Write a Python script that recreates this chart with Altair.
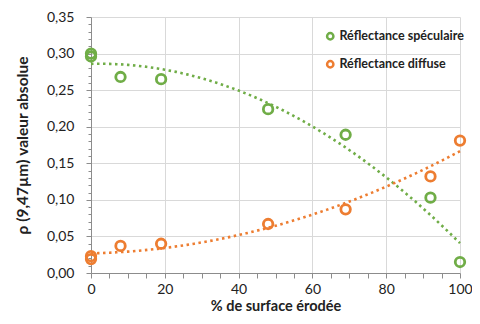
import altair as alt
import pandas as pd

# ---- data ----
x_pct = [0, 0, 8, 19, 48, 69, 92, 100]
specular = [0.300, 0.296, 0.268, 0.265, 0.224, 0.189, 0.103, 0.015]
diffuse = [0.023, 0.019, 0.037, 0.040, 0.067, 0.087, 0.132, 0.181]
series_names = ["Réflectance spéculaire", "Réflectance diffuse"]
series_colors = ["#70ad47", "#ed7d31"]
x_ticks = list(range(0, 101, 5))          # % erosion ticks (major every 20)
y_ticks_pct = list(range(0, 36))          # reflectance ticks in hundredths (major every 5)

rows = []
for xv, yv in zip(x_pct, specular):
    rows.append({"x": xv, "y": yv, "series": series_names[0]})
for xv, yv in zip(x_pct, diffuse):
    rows.append({"x": xv, "y": yv, "series": series_names[1]})
df = pd.DataFrame(rows)

FONT = "Lato"
AXIS_COL = "#8c8c8c"
GRID_COL = "#d9d9d9"
TXT = "#222222"

x_enc = alt.X(
    "x:Q",
    scale=alt.Scale(domain=[0, 100], nice=False, zero=False),
    axis=alt.Axis(
        values=x_ticks,
        title="% de surface érodée",
        titleFontSize=14.5,
        labelExpr="datum.value % 20 == 0 ? format(datum.value, 'd') : ''",
        labelFlush=False,
        labelOverlap=False,
        labelPadding=4,
        gridOpacity={"condition": {"test": "datum.value % 20 == 0 && datum.value > 0", "value": 1}, "value": 0},
        tickSize=5,
        titlePadding=3,
    ),
)
y_enc = alt.Y(
    "yc:Q",
    scale=alt.Scale(domain=[0, 35], nice=False),
    axis=alt.Axis(
        values=y_ticks_pct,
        title="ρ (9,47µm) valeur absolue",
        labelExpr="datum.value % 5 == 0 ? replace(format(datum.value / 100, '.2f'), '.', ',') : ''",
        labelOverlap=False,
        labelPadding=12,
        gridOpacity={"condition": {"test": "datum.value % 5 == 0 && datum.value > 0", "value": 1}, "value": 0},
        tickSize={"condition": {"test": "datum.value % 5 == 0", "value": 5}, "value": 3},
        titlePadding=16,
    ),
)
legend_spec = alt.Legend(
    title=None,
    orient="none",
    legendX=233,
    legendY=13,
    symbolType="circle",
    symbolSize=40,
    symbolStrokeWidth=2.5,
    symbolFillColor="white",
    labelFont=FONT,
    labelFontSize=12.5,
    labelFontWeight="bold",
    labelColor=TXT,
    labelOffset=3,
    rowPadding=11,
    padding=0,
)
color_enc = alt.Color(
    "series:N",
    scale=alt.Scale(domain=series_names, range=series_colors),
    legend=legend_spec,
)

base = alt.Chart(df).transform_calculate(yc="datum.y * 100")

trend = base.transform_regression(
    "x", "yc", groupby=["series"], method="poly", order=2, extent=[0, 100]
).mark_line(strokeDash=[2.5, 3.5], strokeWidth=2.6).encode(
    x=x_enc, y=y_enc, color=color_enc,
)

points = base.mark_point(filled=False, size=90, strokeWidth=2.8, opacity=1).encode(
    x=x_enc, y=y_enc, color=color_enc
)

chart = alt.layer(trend, points).properties(
    width=369,
    height=256,
    autosize=alt.AutoSizeParams(type="none"),
    padding={"left": 83, "top": 9, "right": 12, "bottom": 40},
).configure_view(stroke=None).configure_axis(
    domainColor=AXIS_COL,
    tickColor=AXIS_COL,
    gridColor=GRID_COL,
    labelFont=FONT,
    labelFontSize=14,
    labelColor=TXT,
    titleFont=FONT,
    titleFontSize=15.5,
    titleFontWeight="bold",
    titleColor=TXT,
)

chart.save("out.html", embed_options={"renderer": "svg", "actions": False})
